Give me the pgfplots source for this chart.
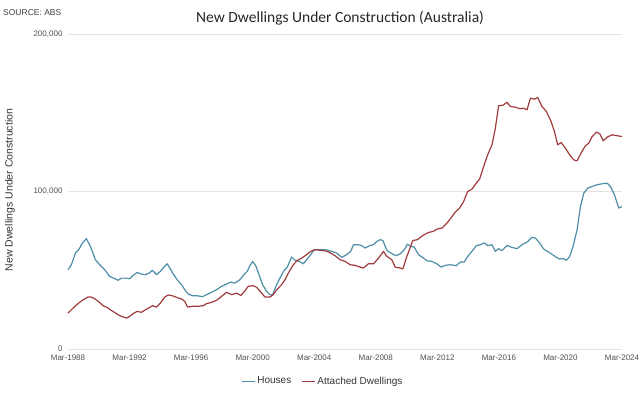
\documentclass[border=0pt]{standalone}
\usepackage{pgfplots}
\pgfplotsset{compat=1.18}
\usepackage{fontspec}
\setmainfont{Liberation Sans}
\newfontfamily\titlefont{Carlito}
\definecolor{houses}{RGB}{78,142,168}
\definecolor{attached}{RGB}{160,60,60}
\definecolor{ticktext}{RGB}{80,80,80}
\begin{document}
\begin{tikzpicture}
\useasboundingbox (-68pt,-44pt) rectangle (576pt,349pt);
\begin{axis}[
  at={(0pt,0pt)}, anchor=south west,
  scale only axis, width=554pt, height=315pt,
  xmin=1988, xmax=2024, ymin=0, ymax=200000,
  scaled y ticks=false,
  axis line style={draw=none},
  tick style={draw=none},
  ymajorgrids, grid style={gray!22, line width=0.6pt},
  xtick={1988,1992,1996,2000,2004,2008,2012,2016,2020,2024},
  xticklabels={Mar-1988,Mar-1992,Mar-1996,Mar-2000,Mar-2004,Mar-2008,Mar-2012,Mar-2016,Mar-2020,Mar-2024},
  ytick={0,100000,200000},
  yticklabels={0,{100,000},{200,000}},
  xticklabel style={font=\fontsize{8}{9}\selectfont, text=ticktext, yshift=-2pt},
  yticklabel style={font=\fontsize{8}{9}\selectfont, text=ticktext, xshift=-2pt},
  legend columns=2,
  legend style={at={(0.46,-0.102)}, anchor=center, draw=none, fill=none,
    font=\fontsize{10}{12}\selectfont, text=black!80,
    /tikz/every even column/.append style={column sep=8pt}},
  legend image code/.code={\draw[#1] (0pt,0pt) -- (13pt,0pt);},
  clip=false,
]
\addplot[color=houses, line width=1.2pt, line join=round] table {
x y
1988.00 50300
1988.22 53500
1988.50 61300
1988.72 63400
1988.93 67300
1989.19 70000
1989.41 66200
1989.58 62000
1989.78 56700
1990.06 53500
1990.39 50300
1990.71 46100
1990.97 45000
1991.25 43600
1991.47 45000
1991.75 45000
1992.01 44600
1992.23 46700
1992.49 48600
1992.77 47600
1993.05 47200
1993.27 48200
1993.49 49900
1993.75 47200
1994.01 49300
1994.23 52000
1994.44 54100
1994.62 51400
1994.83 47800
1995.09 44000
1995.38 40800
1995.59 37600
1995.81 34900
1996.09 33800
1996.39 33800
1996.74 33200
1997.00 34500
1997.33 36000
1997.65 37600
1997.98 39800
1998.30 41200
1998.56 42500
1998.85 41900
1999.17 44000
1999.43 47200
1999.65 49300
1999.82 52900
2000.00 55600
2000.22 52500
2000.41 47200
2000.65 40800
2000.91 36600
2001.13 34500
2001.30 34500
2001.51 39800
2001.77 45000
2002.03 49700
2002.25 52000
2002.53 58400
2002.75 56300
2003.03 55600
2003.29 54100
2003.51 56700
2003.77 59900
2003.99 63000
2004.38 63000
2004.77 63000
2005.14 62000
2005.46 60900
2005.79 58200
2006.11 59900
2006.37 62000
2006.55 66200
2006.87 66200
2007.09 65600
2007.31 64100
2007.59 65600
2007.85 66200
2008.07 68300
2008.28 69400
2008.46 68900
2008.72 62600
2009.04 60500
2009.33 59200
2009.59 60500
2009.85 63000
2010.06 66600
2010.28 65100
2010.50 64700
2010.78 59900
2011.10 57700
2011.32 56000
2011.65 55600
2011.97 54100
2012.25 52000
2012.51 53100
2012.84 53500
2013.23 52900
2013.49 55200
2013.75 55200
2013.97 58800
2014.25 62000
2014.53 65600
2014.79 66200
2015.05 67300
2015.27 65600
2015.55 66200
2015.77 62000
2015.98 63700
2016.20 62400
2016.53 65800
2016.85 64500
2017.18 63700
2017.50 66200
2017.83 67900
2018.15 70900
2018.37 70400
2018.65 67300
2018.91 63500
2019.24 61500
2019.56 59400
2019.89 57300
2020.21 57300
2020.39 56300
2020.60 58800
2020.82 65100
2021.08 75700
2021.30 90500
2021.52 99000
2021.78 102200
2022.06 103200
2022.38 104300
2022.71 104900
2023.03 105300
2023.25 103200
2023.51 97900
2023.79 89500
2024.00 90500
};
\addlegendentry{Houses}
\addplot[color=attached, line width=1.2pt, line join=round] table {
x y
1988.00 22800
1988.33 26000
1988.65 28800
1988.98 31300
1989.30 33000
1989.52 33000
1989.74 31900
1990.02 29800
1990.28 27500
1990.54 26400
1990.82 24500
1991.15 22400
1991.47 20700
1991.80 19700
1992.01 20700
1992.23 22400
1992.49 23900
1992.77 23300
1993.05 25000
1993.31 26400
1993.49 27500
1993.75 26600
1994.01 29200
1994.29 33000
1994.51 34300
1994.79 33800
1995.05 32800
1995.38 31700
1995.59 30200
1995.77 26600
1996.09 27100
1996.46 27100
1996.79 27500
1997.00 28800
1997.33 29600
1997.65 30900
1997.98 33400
1998.30 36000
1998.63 34500
1998.95 35500
1999.24 34000
1999.50 37000
1999.71 39800
2000.04 40200
2000.26 39100
2000.52 36200
2000.80 33000
2001.13 33000
2001.34 34500
2001.56 37600
2001.88 40800
2002.10 44000
2002.32 48200
2002.60 52900
2002.86 56000
2003.18 57700
2003.51 59900
2003.77 62000
2004.05 63000
2004.49 62600
2004.85 62000
2005.14 60500
2005.36 59200
2005.68 56700
2006.01 55600
2006.33 53500
2006.66 53100
2006.98 52000
2007.20 51400
2007.52 54100
2007.85 54100
2008.18 57700
2008.50 62000
2008.72 58800
2009.04 56700
2009.26 52000
2009.59 51400
2009.76 50800
2010.02 58800
2010.41 68900
2010.71 69400
2011.06 72100
2011.43 74000
2011.75 74700
2011.97 76100
2012.30 76800
2012.62 79900
2012.88 83100
2013.16 86900
2013.45 89500
2013.71 93700
2013.97 100000
2014.25 101500
2014.53 105300
2014.75 107900
2015.01 115900
2015.27 123300
2015.55 129600
2015.77 140200
2015.98 154400
2016.27 154800
2016.53 156700
2016.74 154000
2017.07 153500
2017.39 152500
2017.61 152900
2017.83 151900
2018.05 159300
2018.31 158600
2018.52 159700
2018.80 154000
2019.09 150800
2019.39 144500
2019.61 138100
2019.82 129600
2020.04 131100
2020.32 127500
2020.60 123300
2020.86 120100
2021.08 119500
2021.34 124400
2021.62 129000
2021.84 130700
2022.06 134900
2022.34 137700
2022.56 136600
2022.78 132200
2023.03 134500
2023.36 136000
2023.69 135400
2024.00 134900
};
\addlegendentry{Attached Dwellings}
\end{axis}
\node at (272pt,331pt) {\titlefont\fontsize{15.5}{18}\selectfont\color{black!85} New Dwellings Under Construction (Australia)};
\node[anchor=west, inner sep=0pt] at (-65pt,336pt) {\fontsize{8.5}{10}\selectfont\color{black!75} SOURCE: ABS};
\node[rotate=90] at (-58pt,159pt) {\fontsize{10.5}{12}\selectfont\color{black!80} New Dwellings Under Construction};
\end{tikzpicture}
\end{document}
